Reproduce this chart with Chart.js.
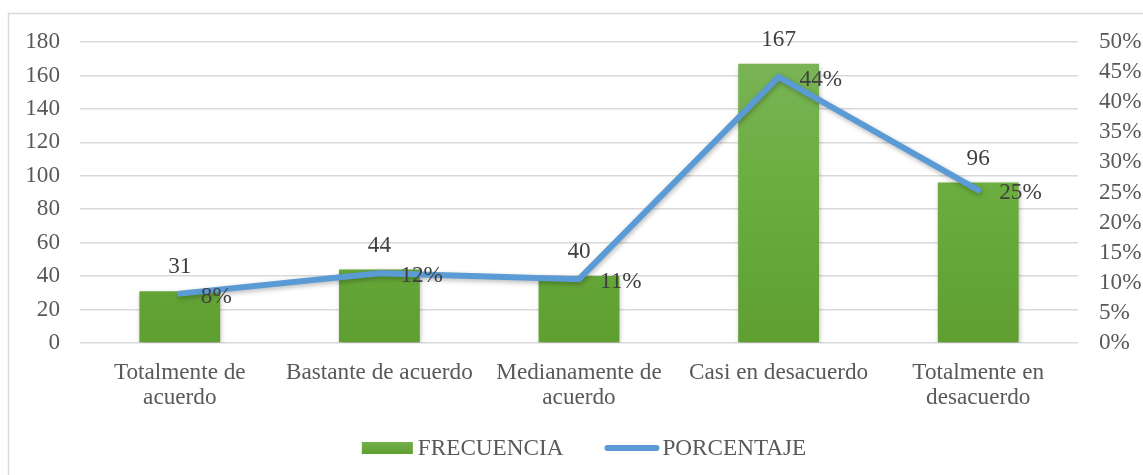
<!DOCTYPE html>
<html>
<head>
<meta charset="utf-8">
<script src="https://cdn.jsdelivr.net/npm/chart.js@4"></script>
<style>
html,body{margin:0;padding:0;background:#fff;}
#wrap{position:relative;width:1143px;height:475px;}
</style>
</head>
<body>
<div id="wrap"><canvas id="c" width="1143" height="475"></canvas></div>
<script>
const categories = [["Totalmente de","acuerdo"],"Bastante de acuerdo",["Medianamente de","acuerdo"],"Casi en desacuerdo",["Totalmente en","desacuerdo"]];
const frecuencia = [31, 44, 40, 167, 96];
const porcentaje = [8.2, 11.6, 10.6, 44.2, 25.4];
const porcentajeLabels = ["8%", "12%", "11%", "44%", "25%"];
const seriesNames = ["FRECUENCIA", "PORCENTAJE"];

const FONT = "'Liberation Serif', 'Times New Roman', serif";
const FS = 23.2;
const TXT = "#595959";
const LBL = "#404040";
const GREEN = "#6aad3d";
const BLUE = "#5b9bd5";

const ctx = document.getElementById('c').getContext('2d');

function barGradient(context) {
  const chart = context.chart;
  const area = chart.chartArea;
  if (!area) return GREEN;
  const g = chart.ctx.createLinearGradient(0, area.top, 0, area.bottom);
  g.addColorStop(0, "#7cb45b");
  g.addColorStop(0.45, "#6cae40");
  g.addColorStop(1, "#5f9f31");
  return g;
}

const framePlugin = {
  id: 'frame',
  beforeDraw(chart) {
    const c = chart.ctx;
    c.save();
    c.strokeStyle = "#d9d9d9";
    c.lineWidth = 1.5;
    c.beginPath();
    c.moveTo(8.5, 480);
    c.lineTo(8.5, 13.5);
    c.lineTo(1150, 13.5);
    c.stroke();
    c.restore();
  }
};

const shadowPlugin = {
  id: 'softShadow',
  beforeDatasetDraw(chart) {
    const c = chart.ctx;
    c.save();
    c.shadowColor = "rgba(0,0,0,0.28)";
    c.shadowBlur = 5;
    c.shadowOffsetX = 1;
    c.shadowOffsetY = 2;
  },
  afterDatasetDraw(chart) {
    chart.ctx.restore();
  }
};

const labelsPlugin = {
  id: 'valueLabels',
  afterDatasetsDraw(chart) {
    const c = chart.ctx;
    c.save();
    c.font = FS + "px " + FONT;
    c.fillStyle = LBL;
    const barMeta = chart.getDatasetMeta(0);
    barMeta.data.forEach((el, i) => {
      c.textAlign = "center";
      c.textBaseline = "middle";
      c.fillText(String(frecuencia[i]), el.x, el.y - 24);
    });
    const lineMeta = chart.getDatasetMeta(1);
    lineMeta.data.forEach((el, i) => {
      c.textAlign = "left";
      c.textBaseline = "middle";
      c.fillText(porcentajeLabels[i], el.x + 21, el.y + 3);
    });
    c.restore();
  }
};

const legendPlugin = {
  id: 'customLegend',
  afterDraw(chart) {
    const c = chart.ctx;
    c.save();
    c.font = FS + "px " + FONT;
    const w1 = c.measureText(seriesNames[0]).width;
    const w2 = c.measureText(seriesNames[1]).width;
    const boxW = 51, gapBT = 5, gapItems = 41, lineW = 55, gapLT = 3;
    const total = boxW + gapBT + w1 + gapItems + lineW + gapLT + w2;
    let x = 584 - total / 2;
    const y = 448;
    const g = c.createLinearGradient(0, y - 6, 0, y + 6);
    g.addColorStop(0, "#72b04a");
    g.addColorStop(1, "#5f9f31");
    c.fillStyle = g;
    c.fillRect(x, y - 6, boxW, 12);
    x += boxW + gapBT;
    c.fillStyle = TXT;
    c.textAlign = "left";
    c.textBaseline = "middle";
    c.fillText(seriesNames[0], x, y + 1);
    x += w1 + gapItems;
    c.strokeStyle = BLUE;
    c.lineWidth = 6;
    c.lineCap = "round";
    c.beginPath();
    c.moveTo(x + 3, y);
    c.lineTo(x + lineW - 3, y);
    c.stroke();
    x += lineW + gapLT;
    c.fillText(seriesNames[1], x, y + 1);
    c.restore();
  }
};

new Chart(ctx, {
  data: {
    labels: categories,
    datasets: [
      {
        type: 'bar',
        label: seriesNames[0],
        data: frecuencia,
        yAxisID: 'y',
        backgroundColor: barGradient,
        borderWidth: 0,
        categoryPercentage: 1,
        barPercentage: 0.405,
        order: 2
      },
      {
        type: 'line',
        label: seriesNames[1],
        data: porcentaje,
        yAxisID: 'y1',
        borderColor: BLUE,
        borderWidth: 6,
        borderJoinStyle: 'miter',
        borderCapStyle: 'round',
        tension: 0,
        pointRadius: 0,
        pointHoverRadius: 0,
        fill: false,
        order: 1
      }
    ]
  },
  options: {
    responsive: false,
    animation: false,
    events: [],
    layout: { padding: { left: 0, right: 0, top: 42, bottom: 0 } },
    plugins: {
      legend: { display: false },
      tooltip: { enabled: false }
    },
    scales: {
      x: {
        position: 'bottom',
        grid: { display: false, drawTicks: false },
        border: { display: false },
        ticks: {
          color: TXT,
          font: { family: FONT, size: FS, lineHeight: 1.08 },
          padding: 17,
          maxRotation: 0,
          autoSkip: false
        },
        afterFit(scale) { scale.height = 132; }
      },
      y: {
        position: 'left',
        min: 0, max: 180,
        ticks: {
          stepSize: 20,
          autoSkip: false,
          color: TXT,
          font: { family: FONT, size: FS },
          padding: 20
        },
        grid: { color: "#d9d9d9", lineWidth: 1.5, drawTicks: false },
        border: { display: false },
        afterFit(scale) { scale.width = 80; }
      },
      y1: {
        position: 'right',
        min: 0, max: 50,
        ticks: {
          stepSize: 5,
          autoSkip: false,
          color: TXT,
          font: { family: FONT, size: FS },
          padding: 21,
          callback: v => v + "%"
        },
        grid: { display: false, drawTicks: false },
        border: { display: false },
        afterFit(scale) { scale.width = 65; }
      }
    }
  },
  plugins: [framePlugin, shadowPlugin, labelsPlugin, legendPlugin]
});
</script>
</body>
</html>
